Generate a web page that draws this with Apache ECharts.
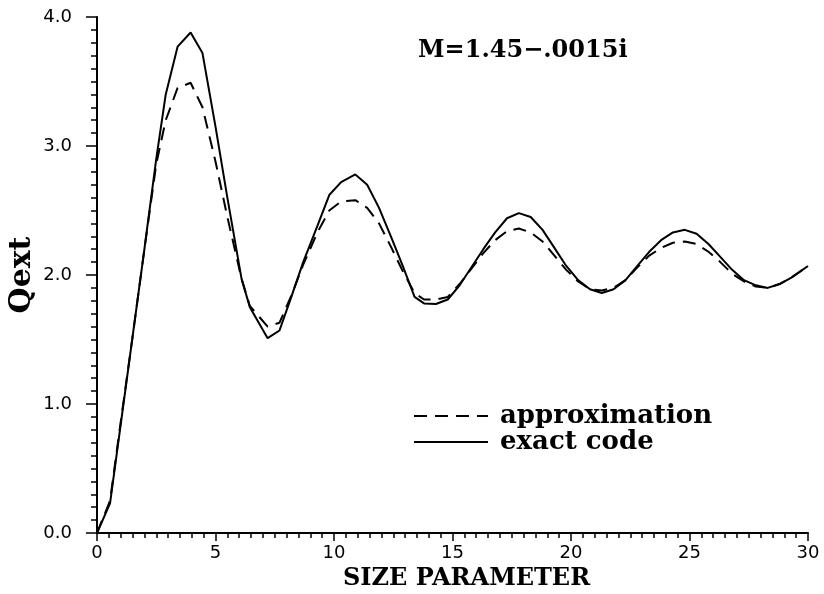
<!DOCTYPE html>
<html>
<head>
<meta charset="utf-8">
<script src="https://cdn.jsdelivr.net/npm/echarts@6/dist/echarts.min.js"></script>
<style>
  html, body { margin: 0; padding: 0; background: #fff; }
  #container { width: 824px; height: 594px; }
</style>
</head>
<body>
<div id="container"></div>
<script>
var dom = document.getElementById("container");
var myChart = echarts.init(dom);
var option;

// size parameter values where the curves were read
var sizeParam = [0, 0.55, 1.0, 1.5, 2.0, 2.5, 2.9, 3.4, 3.95, 4.45, 5.0, 5.5, 6.1, 6.45, 7.2, 7.7,
    8.2, 8.7, 9.3, 9.8, 10.3, 10.9, 11.4, 11.9, 12.4, 12.9, 13.4, 13.8, 14.3, 14.8, 15.3, 15.8,
    16.3, 16.8, 17.3, 17.8, 18.3, 18.8, 19.3, 19.8, 20.3, 20.8, 21.3, 21.8, 22.3, 22.8, 23.3,
    23.8, 24.3, 24.8, 25.3, 25.8, 26.3, 26.8, 27.3, 27.8, 28.3, 28.8, 29.3, 30];

var exactQ = [0, 0.23, 0.84, 1.52, 2.2, 2.9, 3.4, 3.77, 3.88, 3.72, 3.15, 2.6, 1.97, 1.75, 1.51, 1.57,
    1.83, 2.1, 2.38, 2.62, 2.72, 2.78, 2.7, 2.52, 2.3, 2.07, 1.83, 1.78, 1.775, 1.81, 1.92, 2.06,
    2.2, 2.33, 2.44, 2.48, 2.45, 2.35, 2.21, 2.07, 1.96, 1.89, 1.86, 1.89, 1.96, 2.07, 2.18,
    2.27, 2.33, 2.35, 2.32, 2.24, 2.14, 2.04, 1.96, 1.92, 1.9, 1.93, 1.98, 2.07];

var approxQ = [0, 0.25, 0.86, 1.52, 2.2, 2.86, 3.2, 3.45, 3.49, 3.3, 2.88, 2.45, 1.97, 1.76, 1.6, 1.63,
    1.84, 2.08, 2.33, 2.5, 2.57, 2.58, 2.52, 2.4, 2.22, 2.03, 1.86, 1.81, 1.81, 1.83, 1.93, 2.05,
    2.17, 2.27, 2.34, 2.36, 2.33, 2.26, 2.15, 2.04, 1.95, 1.89, 1.88, 1.9, 1.96, 2.06, 2.15,
    2.21, 2.25, 2.26, 2.24, 2.18, 2.1, 2.01, 1.95, 1.91, 1.9, 1.93, 1.98, 2.07];

var seriesNames = ['approximation', 'exact code'];

function pairs(xs, ys) {
    var out = [];
    for (var i = 0; i < xs.length; i++) out.push([xs[i], ys[i]]);
    return out;
}

option = {
    backgroundColor: '#fff',
    animation: false,
    grid: {
        left: 97,
        right: 16,
        top: 17,
        bottom: 61,
        outerBoundsMode: 'none',
        containLabel: false
    },
    legend: {
        data: seriesNames,
        orient: 'vertical',
        left: 408,
        top: 398,
        itemWidth: 74,
        itemHeight: 10,
        itemGap: 0,
        itemStyle: { opacity: 0 },
        textStyle: {
            fontFamily: 'DejaVu Serif',
            fontWeight: 'bold',
            fontSize: 26,
            color: '#000',
            padding: [0, 0, 0, 7]
        }
    },
    graphic: [{
        type: 'text',
        left: 418,
        top: 39,
        style: {
            text: 'M=1.45\u2212.0015i',
            fontFamily: 'DejaVu Serif',
            fontWeight: 'bold',
            fontSize: 24,
            fill: '#000'
        }
    }],
    xAxis: {
        type: 'value',
        min: 0,
        max: 30,
        interval: 5,
        name: 'SIZE PARAMETER',
        nameLocation: 'middle',
        nameGap: 33,
        nameTextStyle: {
            fontFamily: 'DejaVu Serif',
            fontWeight: 'bold',
            fontSize: 24,
            color: '#000',
            padding: [0, 0, 0, 28]
        },
        axisLine: { lineStyle: { color: '#000', width: 2 } },
        axisTick: { length: 8, lineStyle: { color: '#000', width: 1.5 } },
        minorTick: { show: true, splitNumber: 10, length: 5, lineStyle: { color: '#000', width: 1.5 } },
        axisLabel: {
            margin: 11,
            fontFamily: 'DejaVu Sans',
            fontSize: 18,
            color: '#000'
        },
        splitLine: { show: false }
    },
    yAxis: {
        type: 'value',
        min: 0,
        max: 4,
        interval: 1,
        name: 'Qext',
        nameLocation: 'middle',
        nameGap: 60,
        nameMoveOverlap: false,
        nameTextStyle: {
            fontFamily: 'DejaVu Serif',
            fontWeight: 'bold',
            fontSize: 30,
            color: '#000'
        },
        axisLine: { show: true, lineStyle: { color: '#000', width: 2 } },
        axisTick: { show: true, length: 11, lineStyle: { color: '#000', width: 1.5 } },
        minorTick: { show: true, splitNumber: 10, length: 6, lineStyle: { color: '#000', width: 1.5 } },
        axisLabel: {
            margin: 25,
            fontFamily: 'DejaVu Sans',
            fontSize: 18,
            color: '#000',
            formatter: function (v) { return v.toFixed(1); }
        },
        splitLine: { show: false }
    },
    series: [
        {
            name: seriesNames[0],
            type: 'line',
            symbol: 'none',
            data: pairs(sizeParam, approxQ),
            lineStyle: { color: '#000', width: 2, type: [13, 8] },
            itemStyle: { color: '#000' },
            z: 3
        },
        {
            name: seriesNames[1],
            type: 'line',
            symbol: 'none',
            data: pairs(sizeParam, exactQ),
            lineStyle: { color: '#000', width: 2 },
            itemStyle: { color: '#000' },
            z: 4
        }
    ]
};

if (option && typeof option === 'object') {
    myChart.setOption(option);
}
</script>
</body>
</html>
